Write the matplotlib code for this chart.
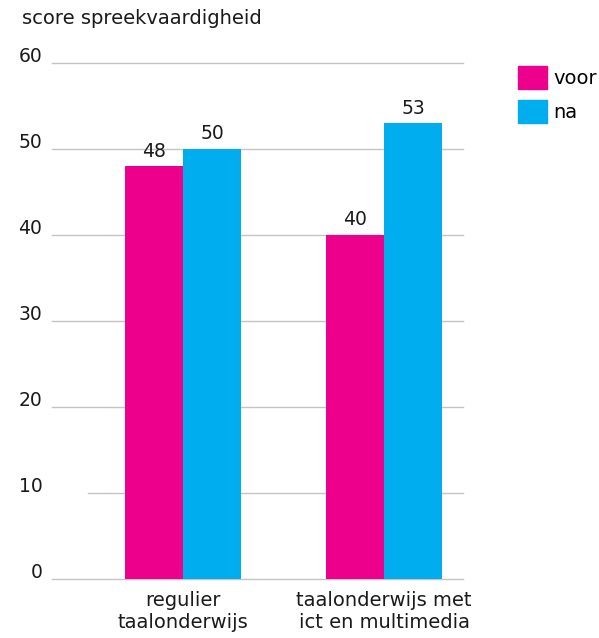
import matplotlib
matplotlib.use("Agg")
from matplotlib import pyplot as plt
from matplotlib.patches import Patch
from matplotlib.transforms import ScaledTranslation

categories = ["regulier\ntaalonderwijs", "taalonderwijs met\nict en multimedia"]
voor = [48, 40]
na = [50, 53]
yticks = [0, 10, 20, 30, 40, 50, 60]
pink = "#ec008c"
blue = "#00aeef"

plt.rcParams['font.family'] = ['DejaVu Sans']

fig = plt.figure(figsize=(5.99, 6.38), dpi=100)
ax = fig.add_axes([52 / 599, 59 / 638, 411 / 599, 516 / 638])

xs = list(range(len(categories)))
w = 0.289
ax.bar([x - w / 2 for x in xs], voor, w, color=pink, zorder=2)
ax.bar([x + w / 2 for x in xs], na, w, color=blue, zorder=2)

for x, v in zip(xs, voor):
    ax.annotate(str(v), (x - w / 2, v), xytext=(0, 4), textcoords="offset points",
                ha="center", va="bottom", fontsize=13.5, color="#1a1a1a")
for x, v in zip(xs, na):
    ax.annotate(str(v), (x + w / 2, v), xytext=(0, 4), textcoords="offset points",
                ha="center", va="bottom", fontsize=13.5, color="#1a1a1a")

ax.set_xlim(-0.652, 1.393)
ax.set_ylim(0, 60)

# gridlines (the 10-line starts a bit further right in the original)
for t in yticks:
    start = 0.087 if t == 10 else 0
    ax.axhline(t, xmin=start, xmax=1, color="#c4c4c4", lw=1, zorder=1,
               clip_on=False)

ax.set_yticks(yticks)
ax.set_yticklabels([str(t) for t in yticks], fontsize=13.5, color="#1a1a1a",
                   va="bottom")
ax.tick_params(axis="y", length=0, pad=7)
shift = ScaledTranslation(0, -2 / 72, fig.dpi_scale_trans)
for lab in ax.get_yticklabels():
    lab.set_transform(lab.get_transform() + shift)
ax.set_xticks(xs)
ax.set_xticklabels(categories, fontsize=14, color="#1a1a1a", linespacing=1.15)
ax.tick_params(axis="x", length=0, pad=9)
for s in ax.spines.values():
    s.set_visible(False)

fig.text(22 / 599, 1 - 18 / 638, "score spreekvaardigheid", fontsize=14,
         color="#1a1a1a", va="center", ha="left")

handles = [Patch(color=pink, label="voor"), Patch(color=blue, label="na")]
fig.legend(handles=handles, loc="upper left", bbox_to_anchor=(518 / 599, 1 - 66 / 638),
           frameon=False, fontsize=14, handlelength=1.5, handleheight=1.45,
           handletextpad=0.3, labelspacing=0.55, borderpad=0, borderaxespad=0)

fig.savefig("out.png", dpi=100)
